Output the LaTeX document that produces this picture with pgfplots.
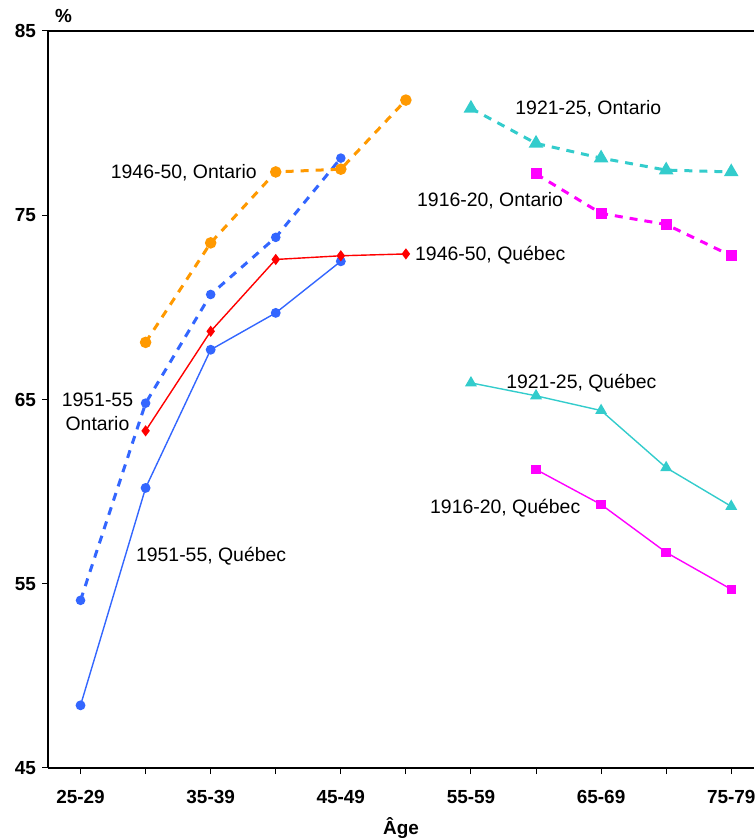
\documentclass[border=0pt]{standalone}
\usepackage{pgfplots}
\pgfplotsset{compat=1.18}
\usepackage{fontspec}
\setmainfont{Liberation Sans}
\usetikzlibrary{calc}
\definecolor{cblue}{RGB}{51,102,255}
\definecolor{corange}{RGB}{255,153,0}
\definecolor{cred}{RGB}{255,0,0}
\definecolor{cteal}{RGB}{51,204,204}
\definecolor{cmag}{RGB}{255,0,255}
\newcommand{\af}{\fontsize{19.5}{24.5}\selectfont}
\begin{document}
\begin{tikzpicture}
\begin{axis}[
  name=ax,
  scale only axis, width=706bp, height=737bp,
  xmin=-0.5, xmax=10.35, ymin=45, ymax=85,
  axis x line*=bottom, axis y line*=left,
  axis line style={line width=1.2bp, -},
  xtick={0,1,2,3,4,5,6,7,8,9,10},
  xticklabels={25-29,,35-39,,45-49,,55-59,,65-69,,75-79},
  ytick={45,55,65,75,85},
  tick align=outside, major tick length=6bp,
  tick style={line width=1bp, black},
  tick label style={font=\fontsize{19}{22}\selectfont\bfseries},
  /pgf/number format/assume math mode=true,
  xticklabel style={yshift=-13bp},
  yticklabel style={xshift=-2.5bp},
  xlabel={Âge},
  xlabel style={font=\fontsize{19}{22}\selectfont\bfseries, at={(axis description cs:0.5,0)}, anchor=center, yshift=-60bp},
  clip=false,
  every axis plot/.append style={every mark/.append style={solid}},
]
% 1951-55 Quebec
\addplot[cblue, line width=1.4bp, mark=*, mark size=4.2bp] coordinates {(0,48.4) (1,60.2) (2,67.7) (3,69.7) (4,72.5)};
% 1951-55 Ontario
\addplot[cblue, line width=3bp, dash pattern=on 8bp off 7bp, mark=*, mark size=3.2bp] coordinates {(0,54.1) (1,64.8) (2,70.7) (3,73.8) (4,78.1)};
% 1946-50 Quebec
\addplot[cred, line width=1.4bp, mark=diamond*, mark size=4.5bp] coordinates {(1,63.3) (2,68.7) (3,72.6) (4,72.8) (5,72.9)};
% 1946-50 Ontario
\addplot[corange, line width=3bp, dash pattern=on 8bp off 7bp, mark=*, mark size=4.2bp] coordinates {(1,68.1) (2,73.5) (3,77.35) (4,77.5) (5,81.25)};
% 1921-25 Ontario
\addplot[cteal, line width=3bp, dash pattern=on 8bp off 7bp, mark=triangle*, mark size=5.5bp] coordinates {(6,80.8) (7,78.9) (8,78.1) (9,77.45) (10,77.35)};
% 1916-20 Ontario
\addplot[cmag, line width=3bp, dash pattern=on 8bp off 7bp, mark=square*, mark size=4bp] coordinates {(7,77.24) (8,75.1) (9,74.5) (10,72.8)};
% 1921-25 Quebec
\addplot[cteal, line width=1.4bp, mark=triangle*, mark size=5.5bp] coordinates {(6,65.9) (7,65.2) (8,64.4) (9,61.3) (10,59.2)};
% 1916-20 Quebec
\addplot[cmag, line width=1.4bp, mark=square*, mark size=4bp] coordinates {(7,61.2) (8,59.3) (9,56.7) (10,54.7)};

\draw[line width=1.2bp] (rel axis cs:0,1) -- (rel axis cs:1,1);
\node[anchor=south west, inner sep=0pt, font=\fontsize{19}{22}\selectfont\bfseries] at ($(rel axis cs:0,1)+(7bp,8bp)$) {\%};

\node[anchor=east, inner sep=0pt, font=\af] at (axis cs:2.71,77.29) {1946-50, Ontario};
\node[align=center, inner sep=0pt, font=\af] at (axis cs:0.26,64.32) {1951-55\\Ontario};
\node[anchor=west, inner sep=0pt, font=\af] at (axis cs:0.85,56.5) {1951-55, Québec};
\node[anchor=west, inner sep=0pt, font=\af] at (axis cs:5.14,72.84) {1946-50, Québec};
\node[anchor=west, inner sep=0pt, font=\af] at (axis cs:5.17,75.77) {1916-20, Ontario};
\node[anchor=west, inner sep=0pt, font=\af] at (axis cs:6.68,80.77) {1921-25, Ontario};
\node[anchor=west, inner sep=0pt, font=\af] at (axis cs:6.54,65.87) {1921-25, Québec};
\node[anchor=west, inner sep=0pt, font=\af] at (axis cs:5.37,59.11) {1916-20, Québec};
\end{axis}
\pgfresetboundingbox
\path ($(ax.south west)+(-48bp,-71bp)$) rectangle ($(ax.north east)+(0bp,31bp)$);
\end{tikzpicture}
\end{document}
